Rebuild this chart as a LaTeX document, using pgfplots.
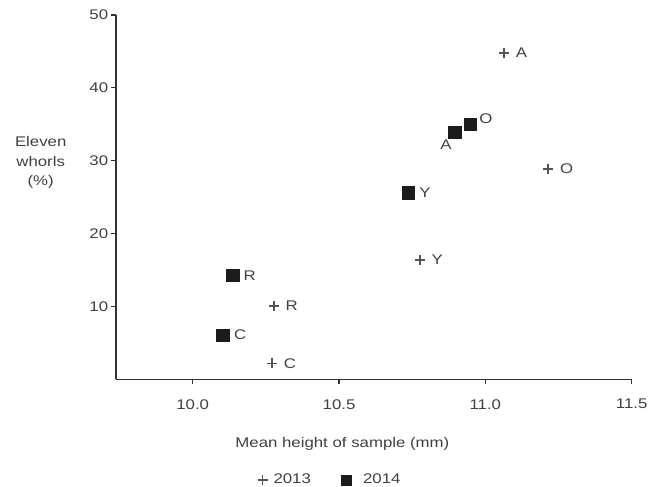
\documentclass[border=0pt]{standalone}
\usepackage{fontspec}
\setmainfont{Liberation Sans}[FakeStretch=1.2]
\usepackage{pgfplots}
\pgfplotsset{compat=1.18}
\definecolor{txt}{HTML}{404040}
\definecolor{axc}{HTML}{333333}
\definecolor{plusc}{HTML}{555555}
\definecolor{sqc}{HTML}{1C1C1C}
\pgfplotsset{
  pluslegend/.style={legend image code/.code={\draw[##1] plot coordinates {(6pt,0pt)};\path[draw=none,fill=none] (0pt,0pt) -- (15pt,0pt);}},
  sqlegend/.style={legend image code/.code={\fill[sqc] (0pt,-5pt) rectangle (10pt,5pt);\path[draw=none,fill=none] (0pt,0pt) -- (20pt,0pt);}},
}
\begin{document}
\fontsize{14}{19.5}\selectfont
\begin{tikzpicture}
\begin{axis}[
  name=ax, scale only axis, width=515.7pt, height=364.5pt,
  xmin=9.738, xmax=11.5, ymin=0, ymax=50,
  axis x line*=bottom, axis y line*=left,
  axis line style={axc, line width=1.4pt},
  tick style={axc, line width=1.1pt},
  tick align=outside, major tick length=5pt,
  xtick={10,10.5,11,11.5}, ytick={10,20,30,40,50},
  x tick label style={yshift=-10pt, /pgf/number format/.cd, fixed, fixed zerofill, precision=1},
  y tick label style={xshift=2pt},
  /pgf/number format/assume math mode=true,
  tick label style={font=\fontsize{14}{16}\selectfont, color=txt},
  xlabel={Mean height of sample (mm)},
  xlabel style={at={(axis description cs:0.439,-0.178)}, anchor=center, color=txt},
  ylabel={Eleven\\whorls\\(\%)},
  ylabel style={rotate=-90, align=center, at={(axis description cs:-0.146,0.595)}, anchor=center, color=txt},
  legend style={draw=none, fill=none, at={(axis description cs:0.414,-0.276)}, anchor=center,
    legend columns=2, text=txt, /tikz/every even column/.append style={column sep=28pt}},
  nodes near coords, point meta=explicit symbolic,
  every node near coord/.append style={anchor=west, xshift=10pt, color=txt, inner sep=1pt},
]
\addplot[only marks, mark=+, mark size=5pt, draw=plusc, line width=1.6pt, pluslegend]
  coordinates {(11.064,44.8)[A] (11.215,28.9)[O] (10.776,16.4)[Y] (10.277,10.1)[R] (10.271,2.2)[C]};
\addplot[only marks, mark=square*, mark size=6.3pt, color=sqc, sqlegend]
  coordinates {(10.736,25.6)[Y] (10.136,14.3)[R] (10.103,6.1)[C]};
\addplot[forget plot, only marks, mark=square*, mark size=6.3pt, color=sqc,
  every node near coord/.append style={xshift=-2pt, yshift=6pt}]
  coordinates {(10.948,35.0)[O]};
\addplot[forget plot, only marks, mark=square*, mark size=6.3pt, color=sqc,
  every node near coord/.append style={anchor=center, xshift=-19pt, yshift=-12pt}]
  coordinates {(10.896,33.9)[A]};
\legend{2013, 2014}
\end{axis}
\pgfresetboundingbox
\path ([xshift=-116pt,yshift=-107.5pt]ax.south west) rectangle ([xshift=29.3pt,yshift=15pt]ax.north east);
\end{tikzpicture}
\end{document}
